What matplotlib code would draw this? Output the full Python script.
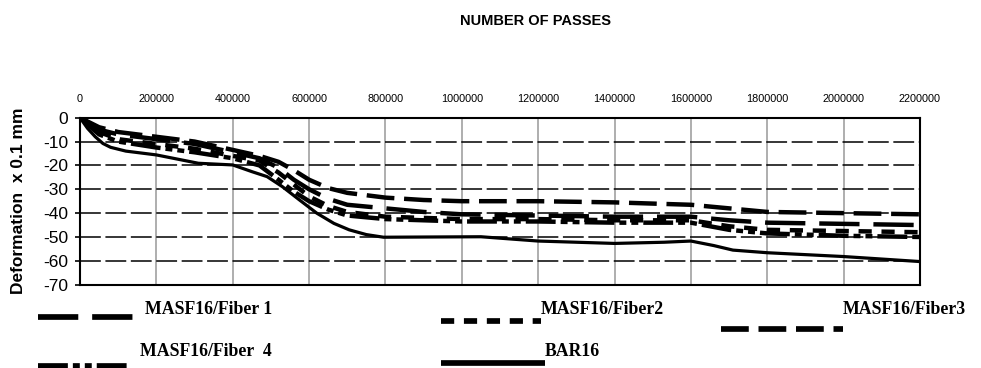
import matplotlib
matplotlib.use("Agg")
import matplotlib.pyplot as plt
from matplotlib.lines import Line2D

plt.rcParams['lines.scale_dashes'] = False

W, H = 981, 368

# number of passes and deformation (x 0.1 mm)
passes = [0, 50e3, 100e3, 200e3, 300e3, 400e3, 470e3, 520e3, 560e3, 600e3, 650e3,
          700e3, 800e3, 900e3, 1000e3, 1200e3, 1400e3, 1600e3, 1700e3, 1800e3,
          2000e3, 2200e3]
fiber3 = [0, -4, -6, -8, -10, -13.5, -16, -18.5, -22, -26, -29.5,
          -31.5, -33.5, -34.5, -35, -35, -35.5, -36.5, -38, -39.5, -40, -40.5]
fiber1 = [0, -5, -7, -9, -11, -14.5, -17, -21, -26, -30, -34,
          -36.5, -38, -39.5, -40.5, -41, -41.5, -41.5, -43, -44, -44.5, -45]
fiber2 = [0, -6, -9, -11, -13, -16, -18, -23, -28, -33, -37,
          -39.5, -41.5, -42, -42.5, -42.5, -43, -43, -45.5, -47, -47.5, -48]
fiber4 = [0, -7, -10, -12.5, -14.5, -17, -20, -26, -31, -35, -38.5,
          -41, -42.5, -43, -43.5, -43.5, -44, -44, -47, -48.5, -49.5, -50]

bar_passes = [0, 20e3, 40e3, 60e3, 80e3, 120e3, 200e3, 310e3, 400e3, 450e3,
              490e3, 530e3, 575e3, 620e3, 665e3, 705e3, 750e3, 795e3, 1050e3,
              1200e3, 1400e3, 1530e3, 1600e3, 1660e3, 1710e3, 1800e3, 2000e3,
              2200e3]
bar16 = [0, -4.5, -8, -10.8, -12.4, -14, -15.6, -19.1, -19.8, -22.6,
         -24.7, -28.9, -34.5, -40, -44.3, -47, -49, -50.1, -49.9,
         -51.7, -52.7, -52.2, -51.7, -53.6, -55.5, -56.6, -58.2,
         -60.3]

x_ticks = list(range(0, 2200001, 200000))
y_ticks = list(range(-70, 1, 10))

# dash patterns in points
styles = {
    'MASF16/Fiber 1': (29, 10),
    'MASF16/Fiber2': (9.5, 7),
    'MASF16/Fiber3': (20, 7),
    'MASF16/Fiber  4': (21.5, 3.6, 5, 3.6, 5, 3.6),
}

fig = plt.figure(figsize=(W / 100, H / 100), dpi=100)
ax = fig.add_axes([80 / W, 1 - 284.7 / H, 840 / W, 167 / H])

# grid
for xv in x_ticks[1:-1]:
    ax.axvline(xv, color='#999999', lw=1.1, zorder=1)
for yv in y_ticks[1:-1]:
    ax.axhline(yv, color='black', lw=1.1, dashes=(15, 3.3), zorder=1)

ax.plot(passes, fiber3, color='black', lw=3.2, dashes=styles['MASF16/Fiber3'], zorder=3)
ax.plot(passes, fiber1, color='black', lw=3.2, dashes=styles['MASF16/Fiber 1'], zorder=3)
ax.plot(passes, fiber2, color='black', lw=3.2, dashes=styles['MASF16/Fiber2'], zorder=3)
ax.plot(passes, fiber4, color='black', lw=3.2, dashes=styles['MASF16/Fiber  4'], zorder=3)
ax.plot(bar_passes, bar16, color='black', lw=2.3, zorder=3)

ax.set_xlim(0, 2200000)
ax.set_ylim(-70, 0)
ax.set_xticks(x_ticks)
ax.set_yticks(y_ticks)
ax.set_xticklabels([str(v) for v in x_ticks], fontsize=7.8, family='Liberation Sans')
ax.set_yticklabels([str(v) for v in y_ticks], fontsize=12.5, family='Liberation Sans')
ax.xaxis.tick_top()
ax.tick_params(axis='x', length=0, pad=10)
ax.tick_params(axis='y', length=3.6, width=1.2, pad=5, direction='out')
for s in ax.spines.values():
    s.set_linewidth(1.5)

ax.set_ylabel('Deformation  x 0.1 mm', fontsize=12.5, fontweight='bold',
              family='Liberation Sans')
ax.yaxis.set_label_coords((26 - 80) / 840, 0.5)

fig.text(460 / W, 1 - 21 / H, 'NUMBER OF PASSES', fontsize=10.5, fontweight='bold',
         family='Liberation Sans', ha='left', va='center')


def px(x, y):
    return x / W, 1 - y / H


def sample(x0, x1, y, dashes=None, lw=4.1):
    (a, b), (c, _) = px(x0, y), px(x1, y)
    kw = {} if dashes is None else {'dashes': dashes}
    fig.add_artist(Line2D([a, c], [b, b], color='black', lw=lw,
                          transform=fig.transFigure, solid_capstyle='butt',
                          dash_capstyle='butt', **kw))


def label(x, y, s):
    fx, fy = px(x, y)
    fig.text(fx, fy, s, fontsize=12.8, fontweight='bold', family='Liberation Serif',
             ha='left', va='center')


sample(38, 136, 317, styles['MASF16/Fiber 1'])
label(145, 310, 'MASF16/Fiber 1')
sample(441, 541, 321, styles['MASF16/Fiber2'])
label(541, 310, 'MASF16/Fiber2')
sample(721, 843, 329, styles['MASF16/Fiber3'])
label(843, 310, 'MASF16/Fiber3')
sample(38, 131, 366, styles['MASF16/Fiber  4'])
label(140, 351, 'MASF16/Fiber  4')
sample(441, 545, 363, None)
label(545, 352, 'BAR16')

fig.savefig('out.png', dpi=100)
